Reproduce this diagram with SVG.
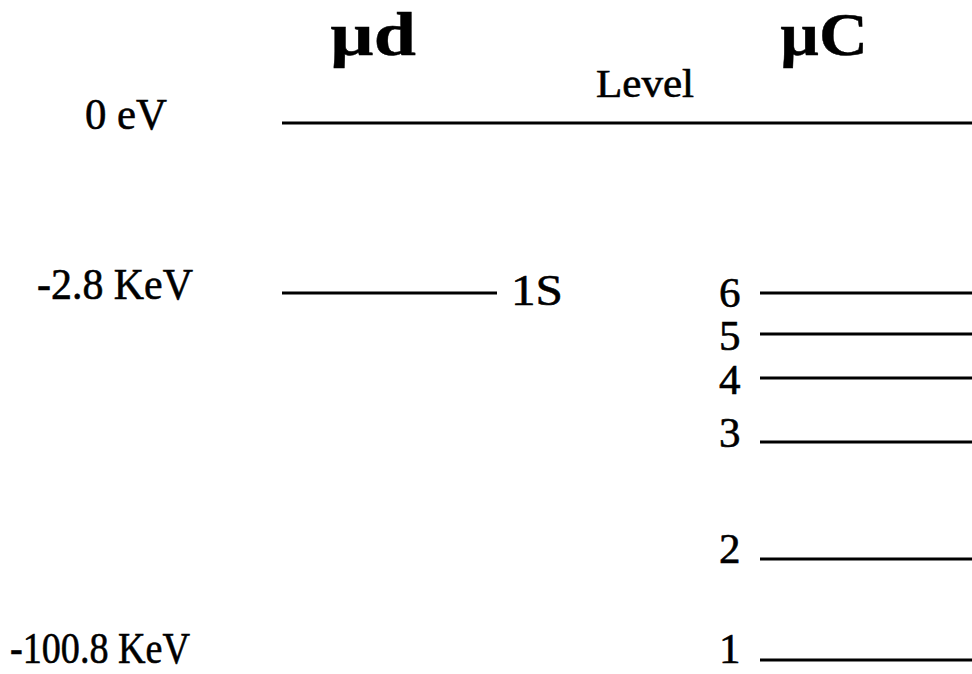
<svg xmlns="http://www.w3.org/2000/svg" width="972" height="674" viewBox="0 0 972 674">
  <style>
    .t { font-family: "Liberation Serif", "Times New Roman", serif; fill: #000; stroke: #000; stroke-width: 0.6; }
    .lbl { font-size: 45px; }
    .num { font-size: 43px; }
    .hdr { font-size: 62px; font-weight: bold; stroke-width: 0.4; }
    .lvl { font-size: 40px; }
    .ln { stroke: #000; stroke-width: 3; fill: none; }
  </style>
  <rect width="972" height="674" fill="#fff"/>

  <!-- column headers -->
  <g id="header-mud"><text class="t hdr" x="330" y="55" textLength="86" lengthAdjust="spacingAndGlyphs">µd</text></g>
  <g id="header-level"><text class="t lvl" x="596" y="97" textLength="98" lengthAdjust="spacingAndGlyphs">Level</text></g>
  <g id="header-muc"><text class="t hdr" x="780" y="55" textLength="88" lengthAdjust="spacingAndGlyphs">µC</text></g>

  <!-- energy axis labels -->
  <g id="energy-0"><text class="t lbl" x="85" y="129" textLength="82" lengthAdjust="spacingAndGlyphs">0 eV</text></g>
  <g id="energy-2.8"><text class="t lbl" x="37" y="299" textLength="156" lengthAdjust="spacingAndGlyphs">-2.8 KeV</text></g>
  <g id="energy-100.8"><text class="t lbl" x="10" y="663" textLength="180" lengthAdjust="spacingAndGlyphs">-100.8 KeV</text></g>

  <!-- muonic deuterium level -->
  <g id="mud-1S"><text class="t lbl" x="511" y="305" textLength="52" lengthAdjust="spacingAndGlyphs">1S</text></g>

  <!-- muonic carbon level numbers -->
  <g id="muc-6"><text class="t num" x="719" y="307">6</text></g>
  <g id="muc-5"><text class="t num" x="719" y="350">5</text></g>
  <g id="muc-4"><text class="t num" x="719" y="394">4</text></g>
  <g id="muc-3"><text class="t num" x="719" y="447">3</text></g>
  <g id="muc-2"><text class="t num" x="719" y="563">2</text></g>
  <g id="muc-1"><text class="t num" x="719" y="663">1</text></g>

  <!-- level lines -->
  <g id="levels">
    <line class="ln" x1="282" y1="123" x2="972" y2="123"/>
    <line class="ln" x1="282" y1="293" x2="497" y2="293"/>
    <line class="ln" x1="760" y1="293" x2="972" y2="293"/>
    <line class="ln" x1="760" y1="334" x2="972" y2="334"/>
    <line class="ln" x1="760" y1="378" x2="972" y2="378"/>
    <line class="ln" x1="760" y1="442" x2="972" y2="442"/>
    <line class="ln" x1="760" y1="559" x2="972" y2="559"/>
    <line class="ln" x1="760" y1="660" x2="972" y2="660"/>
  </g>
</svg>
